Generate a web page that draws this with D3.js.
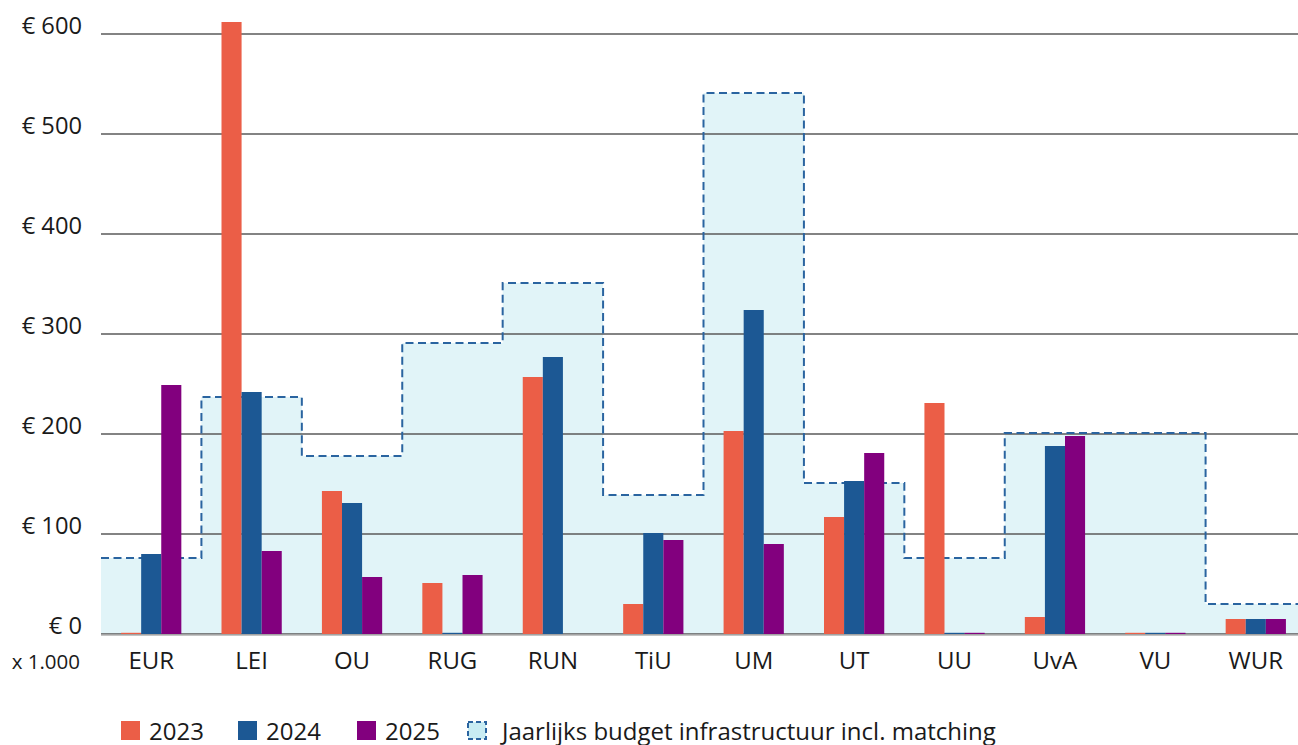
<!DOCTYPE html>
<html>
<head>
<meta charset="utf-8">
<script src="https://cdn.jsdelivr.net/npm/d3@7"></script>
<style>
  html, body { margin: 0; padding: 0; background: #fff; }
  svg { display: block; font-family: "Open Sans", "Noto Sans", sans-serif; }
</style>
</head>
<body>
<svg id="chart" width="1298" height="745"></svg>
<script>
const categories = ["EUR", "LEI", "OU", "RUG", "RUN", "TiU", "UM", "UT", "UU", "UvA", "VU", "WUR"];
const seriesNames = ["2023", "2024", "2025"];
const values2023 = [0, 612, 143, 51, 257, 30, 203, 117, 231, 17, 0, 15];
const values2024 = [80, 242, 131, 0, 277, 101, 324, 153, 0, 188, 0, 15];
const values2025 = [249, 83, 57, 59, null, 94, 90, 181, 0, 198, 0, 15];
const budget = [76, 237, 178, 291, 351, 139, 541, 151, 76, 201, 201, 30];
const yTicks = [0, 100, 200, 300, 400, 500, 600];
const budgetLabel = "Jaarlijks budget infrastructuur incl. matching";
const unitLabel = "x 1.000";

const colors = { "2023": "#eb5e47", "2024": "#1c5894", "2025": "#82007e" };
const budgetFill = "#e1f4f8";
const budgetStroke = "#2a64a0";

const svg = d3.select("#chart");
const plotLeft = 101, plotRight = 1306, plotTop = 34, plotBottom = 634;

const x = d3.scaleBand().domain(categories).range([plotLeft, plotRight]).padding(0);
const xs = d3.scaleBand().domain(seriesNames)
  .range([x.bandwidth() * 0.2, x.bandwidth() * 0.8]).padding(0);
const y = d3.scaleLinear().domain([0, 600]).range([plotBottom, plotTop]);

// budget step area
const stepData = [];
categories.forEach((c, i) => {
  stepData.push({ x: x(c), v: budget[i] });
  stepData.push({ x: x(c) + x.bandwidth(), v: budget[i] });
});
const area = d3.area().x(d => d.x).y0(y(0)).y1(d => y(d.v));
svg.append("path").datum(stepData).attr("d", area).attr("fill", budgetFill);

// gridlines
svg.append("g").selectAll("line").data(yTicks).join("line")
  .attr("x1", plotLeft).attr("x2", 1298)
  .attr("y1", d => y(d)).attr("y2", d => y(d))
  .attr("stroke", "#5a5a5a").attr("stroke-width", 1.3);
svg.append("line").attr("x1", plotLeft).attr("x2", 1298)
  .attr("y1", y(0) + 1.2).attr("y2", y(0) + 1.2)
  .attr("stroke", "#c4c4c4").attr("stroke-width", 1.4);

// budget dashed line
const line = d3.line().x(d => d.x).y(d => y(d.v));
svg.append("path").datum(stepData).attr("d", line)
  .attr("fill", "none").attr("stroke", budgetStroke)
  .attr("stroke-width", 2).attr("stroke-dasharray", "8,4.5");

// bars
const seriesValues = { "2023": values2023, "2024": values2024, "2025": values2025 };
const barData = [];
categories.forEach((c, i) => {
  seriesNames.forEach(s => {
    const v = seriesValues[s][i];
    if (v !== null) barData.push({ c, s, v });
  });
});
svg.append("g").selectAll("rect").data(barData).join("rect")
  .attr("x", d => x(d.c) + xs(d.s))
  .attr("width", xs.bandwidth())
  .attr("y", d => Math.min(y(d.v), y(0) - 1.2))
  .attr("height", d => Math.max(y(0) - y(d.v), 1.2))
  .attr("fill", d => colors[d.s]);

// y axis labels
svg.append("g").selectAll("text").data(yTicks).join("text")
  .attr("x", 82).attr("y", d => y(d))
  .attr("text-anchor", "end")
  .attr("font-size", 23.7).attr("fill", "#1a1a1a")
  .text(d => "€ " + d);

svg.append("text").attr("x", 80).attr("y", 669)
  .attr("text-anchor", "end").attr("font-size", 20.5).attr("fill", "#1a1a1a")
  .text(unitLabel);

// x axis labels
svg.append("g").selectAll("text").data(categories).join("text")
  .attr("x", d => x(d) + x.bandwidth() / 2).attr("y", 669)
  .attr("text-anchor", "middle").attr("font-size", 24).attr("fill", "#1a1a1a")
  .text(d => d);

// legend
const legendItems = [
  { label: "2023", x: 121, type: "bar", color: colors["2023"] },
  { label: "2024", x: 238, type: "bar", color: colors["2024"] },
  { label: "2025", x: 357, type: "bar", color: colors["2025"] },
  { label: budgetLabel, x: 467, type: "budget" }
];
const lg = svg.append("g");
legendItems.forEach(it => {
  if (it.type === "bar") {
    lg.append("rect").attr("x", it.x).attr("y", 721).attr("width", 19).attr("height", 19)
      .attr("fill", it.color);
  } else {
    lg.append("rect").attr("x", it.x + 1).attr("y", 722).attr("width", 18).attr("height", 17)
      .attr("fill", "#c8ecf3").attr("stroke", budgetStroke).attr("stroke-width", 2)
      .attr("stroke-dasharray", "5,3");
  }
  lg.append("text").attr("x", it.x + (it.type === "bar" ? 28 : 35)).attr("y", 740)
    .attr("font-size", 24).attr("fill", "#1a1a1a").text(it.label);
});
</script>
</body>
</html>
